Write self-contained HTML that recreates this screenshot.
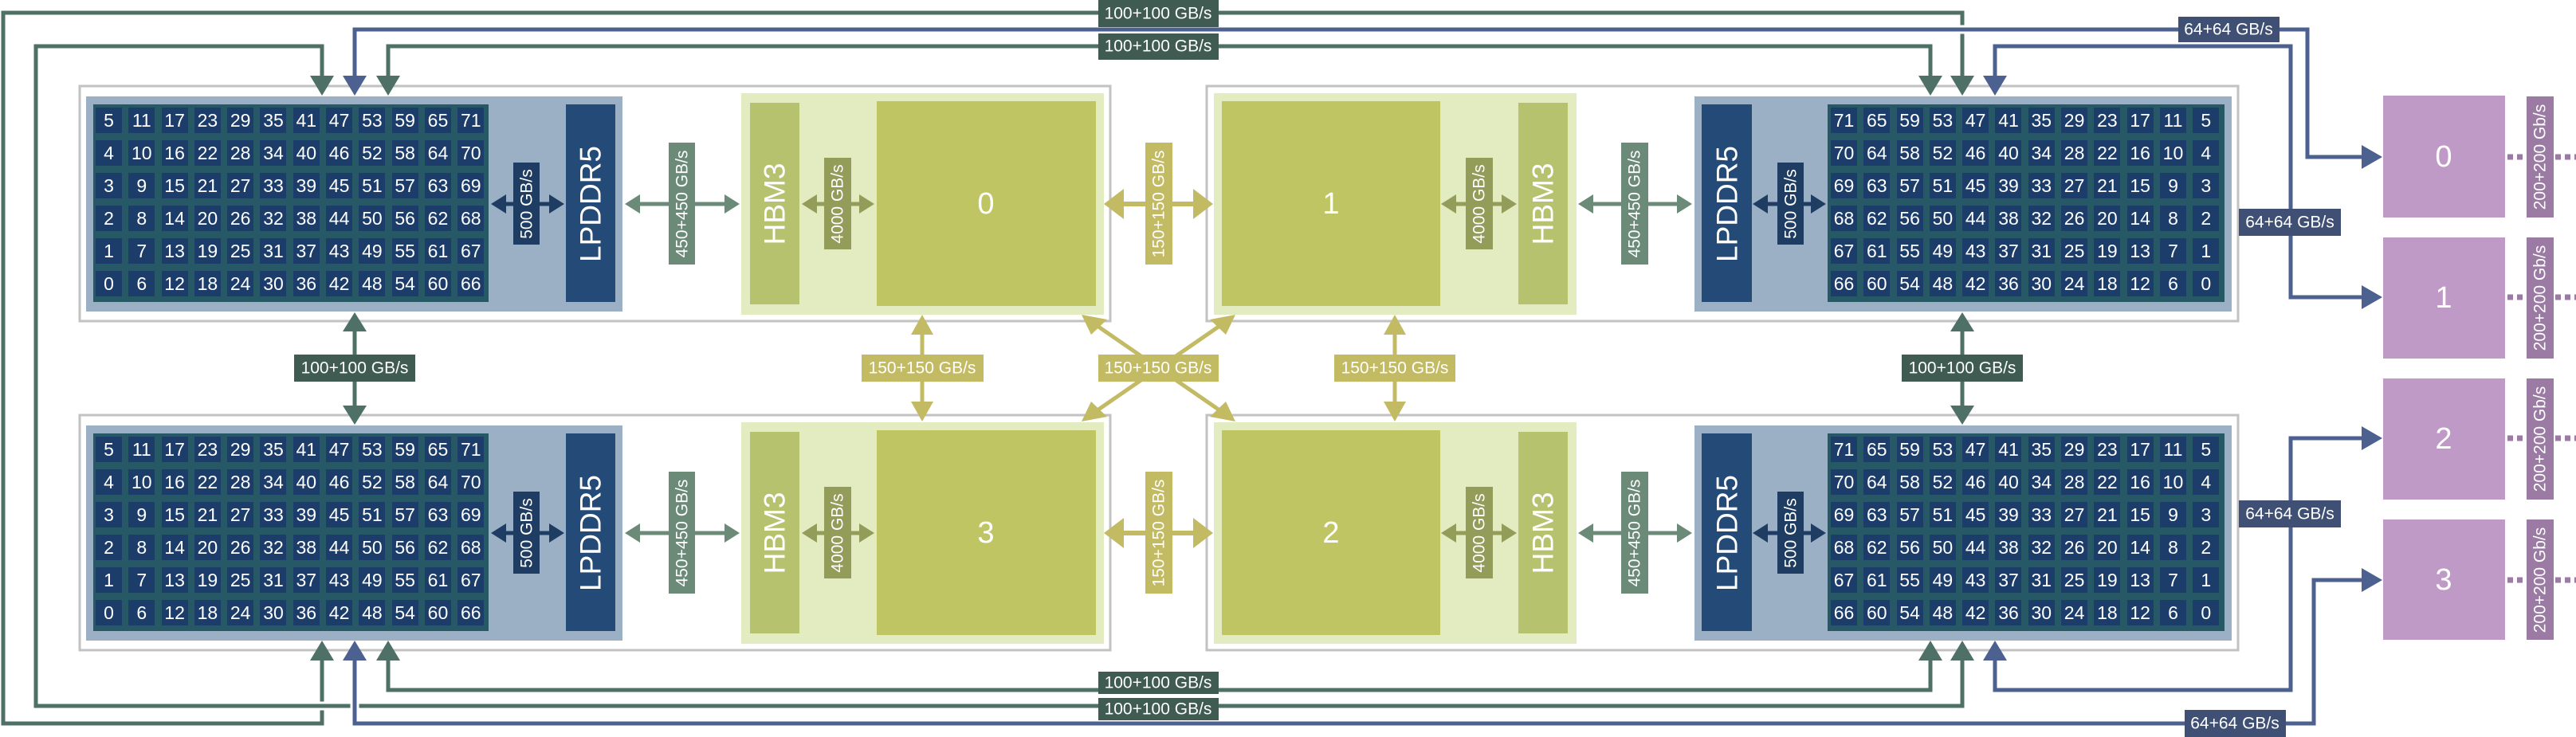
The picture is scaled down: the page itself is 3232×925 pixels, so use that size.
<!DOCTYPE html>
<html><head><meta charset="utf-8"><style>
body{margin:0;background:#fff;}
#w{position:relative;width:3232px;height:925px;overflow:hidden;background:#fff;font-family:"Liberation Sans",sans-serif;}
svg{position:absolute;left:0;top:0;}
.g{position:absolute;width:490px;display:grid;grid-template-columns:repeat(12,33px);column-gap:8.3px;row-gap:9px;padding:4px 0 0 3px;}
.g b{display:block;width:33px;height:32px;background:#1c3d6a;color:#fff;font-weight:normal;font-family:"Liberation Sans Narrow","Liberation Sans",sans-serif;font-size:23px;line-height:32px;text-align:center;}
</style></head><body><div id="w">
<svg width="3232" height="925" viewBox="0 0 3232 925" font-family="Liberation Sans, sans-serif">
<!-- frames -->
<g fill="none" stroke="#c2c2c2" stroke-width="3">
<rect x="100" y="108" width="1293" height="295"/>
<rect x="1514" y="108" width="1294" height="295"/>
<rect x="100" y="521" width="1293" height="295"/>
<rect x="1514" y="521" width="1294" height="295"/>
</g>
<!-- top-left block -->
<g id="tl">
<rect x="108" y="121" width="673" height="270" fill="#9bb0c4"/>
<rect x="117" y="131" width="496" height="248" fill="#275866"/>
<rect x="710" y="131" width="62" height="248" fill="#244a78"/>
<rect x="930" y="117" width="455" height="278" fill="#e3ecc0"/>
<rect x="941" y="129" width="62" height="253" fill="#b7c26e"/>
<rect x="1100" y="127" width="275" height="257" fill="#c0c563"/>
</g>
<g transform="translate(0,413)">
<rect x="108" y="121" width="673" height="270" fill="#9bb0c4"/>
<rect x="117" y="131" width="496" height="248" fill="#275866"/>
<rect x="710" y="131" width="62" height="248" fill="#244a78"/>
<rect x="930" y="117" width="455" height="278" fill="#e3ecc0"/>
<rect x="941" y="129" width="62" height="253" fill="#b7c26e"/>
<rect x="1100" y="127" width="275" height="257" fill="#c0c563"/>
</g>
<g id="tr">
<rect x="2126" y="121" width="674" height="270" fill="#9bb0c4"/>
<rect x="2293" y="131" width="498" height="248" fill="#275866"/>
<rect x="2135" y="131" width="63" height="248" fill="#244a78"/>
<rect x="1523" y="117" width="455" height="278" fill="#e3ecc0"/>
<rect x="1905" y="129" width="62" height="253" fill="#b7c26e"/>
<rect x="1533" y="127" width="274" height="257" fill="#c0c563"/>
</g>
<g transform="translate(0,413)">
<rect x="2126" y="121" width="674" height="270" fill="#9bb0c4"/>
<rect x="2293" y="131" width="498" height="248" fill="#275866"/>
<rect x="2135" y="131" width="63" height="248" fill="#244a78"/>
<rect x="1523" y="117" width="455" height="278" fill="#e3ecc0"/>
<rect x="1905" y="129" width="62" height="253" fill="#b7c26e"/>
<rect x="1533" y="127" width="274" height="257" fill="#c0c563"/>
</g>

<!-- in-block double arrows (top row y=256, bottom y=669) -->
<g id="arr">
<!-- 500 left -->
<g fill="#1f3d62" stroke="#1f3d62"><line x1="630" y1="256" x2="695" y2="256" stroke-width="5"/><polygon points="616,256 635,244 635,268" stroke="none"/><polygon points="708,256 689,244 689,268" stroke="none"/></g>
<!-- 450 left -->
<g fill="#6b8a78" stroke="#6b8a78"><line x1="798" y1="256" x2="914" y2="256" stroke-width="5"/><polygon points="784,256 803,244 803,268" stroke="none"/><polygon points="928,256 909,244 909,268" stroke="none"/></g>
<!-- 4000 left -->
<g fill="#949c5a" stroke="#949c5a"><line x1="1020" y1="256" x2="1084" y2="256" stroke-width="5"/><polygon points="1006,256 1025,244 1025,268" stroke="none"/><polygon points="1097,256 1078,244 1078,268" stroke="none"/></g>
<!-- 150 mid -->
<g fill="#c3ba64" stroke="#c3ba64"><line x1="1400" y1="256" x2="1508" y2="256" stroke-width="6"/><polygon points="1385,256 1410,237 1410,275" stroke="none"/><polygon points="1522,256 1497,237 1497,275" stroke="none"/></g>
<!-- 4000 right -->
<g fill="#949c5a" stroke="#949c5a"><line x1="1822" y1="256" x2="1890" y2="256" stroke-width="5"/><polygon points="1808,256 1827,244 1827,268" stroke="none"/><polygon points="1903,256 1884,244 1884,268" stroke="none"/></g>
<!-- 450 right -->
<g fill="#6b8a78" stroke="#6b8a78"><line x1="1994" y1="256" x2="2109" y2="256" stroke-width="5"/><polygon points="1980,256 1999,244 1999,268" stroke="none"/><polygon points="2123,256 2104,244 2104,268" stroke="none"/></g>
<!-- 500 right -->
<g fill="#1f3d62" stroke="#1f3d62"><line x1="2213" y1="256" x2="2278" y2="256" stroke-width="5"/><polygon points="2199,256 2218,244 2218,268" stroke="none"/><polygon points="2291,256 2272,244 2272,268" stroke="none"/></g>
</g>
<use href="#arr" transform="translate(0,413)"/>

<!-- vertical links between rows -->
<g fill="#4f7066" stroke="#4f7066">
<line x1="445" y1="410" x2="445" y2="515" stroke-width="5"/><polygon points="445,392 430,416 460,416" stroke="none"/><polygon points="445,533 430,509 460,509" stroke="none"/>
<line x1="2462" y1="410" x2="2462" y2="515" stroke-width="5"/><polygon points="2462,392 2447,416 2477,416" stroke="none"/><polygon points="2462,533 2447,509 2477,509" stroke="none"/>
</g>
<g fill="#c3ba64" stroke="#c3ba64">
<line x1="1157" y1="410" x2="1157" y2="515" stroke-width="5"/><polygon points="1157,395 1143,420 1171,420" stroke="none"/><polygon points="1157,529 1143,504 1171,504" stroke="none"/>
<line x1="1750" y1="410" x2="1750" y2="515" stroke-width="5"/><polygon points="1750,395 1736,420 1764,420" stroke="none"/><polygon points="1750,529 1736,504 1764,504" stroke="none"/>
<line x1="1368" y1="403" x2="1539" y2="521" stroke-width="5"/>
<line x1="1539" y1="403" x2="1368" y2="521" stroke-width="5"/>
<polygon points="1357,395 1389,401 1369,420" stroke="none"/>
<polygon points="1550,395 1518,401 1538,420" stroke="none"/>
<polygon points="1357,529 1389,523 1369,504" stroke="none"/>
<polygon points="1550,529 1518,523 1538,504" stroke="none"/>
</g>

<!-- long connectors -->
<g fill="none" stroke-width="5" stroke-linejoin="miter">
<path d="M404,829 V908 H4 V16 H2462 V98" stroke="#fff" stroke-width="11"/>
<path d="M404,829 V908 H4 V16 H2462 V98" stroke="#4f7066"/>
<path d="M445,98 V37 H2895 V197 H2968" stroke="#fff" stroke-width="11"/>
<path d="M445,98 V37 H2895 V197 H2968" stroke="#4d6190"/>
<path d="M404,98 V58 H45 V886 H2462 V826" stroke="#fff" stroke-width="11"/>
<path d="M404,98 V58 H45 V886 H2462 V826" stroke="#4f7066"/>
<path d="M487,98 V58 H2422 V98" stroke="#fff" stroke-width="11"/>
<path d="M487,98 V58 H2422 V98" stroke="#4f7066"/>
<path d="M2503,98 V58 H2874 V373 H2968" stroke="#fff" stroke-width="11"/>
<path d="M2503,98 V58 H2874 V373 H2968" stroke="#4d6190"/>
<path d="M487,826 V866 H2422 V826" stroke="#fff" stroke-width="11"/>
<path d="M487,826 V866 H2422 V826" stroke="#4f7066"/>
<path d="M2503,826 V866 H2874 V550 H2968" stroke="#fff" stroke-width="11"/>
<path d="M2503,826 V866 H2874 V550 H2968" stroke="#4d6190"/>
<path d="M445,826 V908 H2903 V728 H2968" stroke="#fff" stroke-width="11"/>
<path d="M445,826 V908 H2903 V728 H2968" stroke="#4d6190"/>
</g>
<!-- arrowheads -->
<g stroke="none">
<polygon points="389,95 419,95 404,120" fill="#4f7066"/>
<polygon points="430,95 460,95 445,120" fill="#4d6190"/>
<polygon points="472,95 502,95 487,120" fill="#4f7066"/>
<polygon points="2407,95 2437,95 2422,120" fill="#4f7066"/>
<polygon points="2447,95 2477,95 2462,120" fill="#4f7066"/>
<polygon points="2488,95 2518,95 2503,120" fill="#4d6190"/>
<polygon points="389,829 419,829 404,804" fill="#4f7066"/>
<polygon points="430,829 460,829 445,804" fill="#4d6190"/>
<polygon points="472,829 502,829 487,804" fill="#4f7066"/>
<polygon points="2407,829 2437,829 2422,804" fill="#4f7066"/>
<polygon points="2447,829 2477,829 2462,804" fill="#4f7066"/>
<polygon points="2488,829 2518,829 2503,804" fill="#4d6190"/>
<polygon points="2963,182 2989,197 2963,212" fill="#4d6190"/>
<polygon points="2963,358 2989,373 2963,388" fill="#4d6190"/>
<polygon points="2963,535 2989,550 2963,565" fill="#4d6190"/>
<polygon points="2963,713 2989,728 2963,743" fill="#4d6190"/>
</g>

<!-- pink boxes -->
<g fill="#c09ac6">
<rect x="2990" y="120" width="153" height="153"/>
<rect x="2990" y="298" width="153" height="152"/>
<rect x="2990" y="475" width="153" height="152"/>
<rect x="2990" y="652" width="153" height="151"/>
</g>
<g stroke="#9b7aa3" stroke-width="7" stroke-dasharray="7 5">
<line x1="3146" y1="197" x2="3232" y2="197"/>
<line x1="3146" y1="373" x2="3232" y2="373"/>
<line x1="3146" y1="550" x2="3232" y2="550"/>
<line x1="3146" y1="728" x2="3232" y2="728"/>
</g>
<g fill="#9b7aa3">
<rect x="3170" y="121" width="34" height="152"/>
<rect x="3170" y="298" width="34" height="152"/>
<rect x="3170" y="475" width="34" height="152"/>
<rect x="3170" y="652" width="34" height="151"/>
</g>

<!-- label boxes -->
<g fill="#3f5b52">
<rect x="1378" y="0" width="151" height="34"/>
<rect x="1378" y="42" width="151" height="33"/>
<rect x="1378" y="843" width="151" height="28"/>
<rect x="1378" y="876" width="151" height="28"/>
<rect x="369" y="445" width="152" height="34"/>
<rect x="2386" y="445" width="152" height="34"/>
</g>
<g fill="#3f5074">
<rect x="2733" y="21" width="127" height="32"/>
<rect x="2809" y="262" width="128" height="34"/>
<rect x="2809" y="628" width="128" height="34"/>
<rect x="2741" y="891" width="127" height="34"/>
</g>
<g fill="#c3ba64">
<rect x="1081" y="445" width="153" height="34"/>
<rect x="1378" y="445" width="151" height="34"/>
<rect x="1674" y="445" width="152" height="34"/>
<rect x="1437" y="179" width="34" height="153"/>
<rect x="1437" y="592" width="34" height="153"/>
</g>
<g fill="#1f3d62">
<rect x="644" y="204" width="33" height="103"/><rect x="644" y="617" width="33" height="103"/>
<rect x="2230" y="204" width="33" height="103"/><rect x="2230" y="617" width="33" height="103"/>
</g>
<g fill="#6b8a78">
<rect x="839" y="179" width="33" height="153"/><rect x="839" y="592" width="33" height="153"/>
<rect x="2034" y="179" width="34" height="153"/><rect x="2034" y="592" width="34" height="153"/>
</g>
<g fill="#949c5a">
<rect x="1034" y="198" width="34" height="115"/><rect x="1034" y="611" width="34" height="115"/>
<rect x="1839" y="198" width="34" height="115"/><rect x="1839" y="611" width="34" height="115"/>
</g>

<!-- horizontal label texts -->
<g fill="#fff" font-size="21" text-anchor="middle" dominant-baseline="central">
<text x="1453" y="17">100+100 GB/s</text>
<text x="1453" y="58">100+100 GB/s</text>
<text x="1453" y="857">100+100 GB/s</text>
<text x="1453" y="890">100+100 GB/s</text>
<text x="445" y="462">100+100 GB/s</text>
<text x="2462" y="462">100+100 GB/s</text>
<text x="2796" y="37">64+64 GB/s</text>
<text x="2873" y="279">64+64 GB/s</text>
<text x="2873" y="645">64+64 GB/s</text>
<text x="2804" y="908">64+64 GB/s</text>
<text x="1157" y="462">150+150 GB/s</text>
<text x="1453" y="462">150+150 GB/s</text>
<text x="1750" y="462">150+150 GB/s</text>
</g>
<!-- vertical label texts -->
<g fill="#fff" font-size="21" text-anchor="middle" dominant-baseline="central">
<text transform="translate(661,256) rotate(-90)">500 GB/s</text>
<text transform="translate(661,669) rotate(-90)">500 GB/s</text>
<text transform="translate(2247,256) rotate(-90)">500 GB/s</text>
<text transform="translate(2247,669) rotate(-90)">500 GB/s</text>
<text transform="translate(856,256) rotate(-90)">450+450 GB/s</text>
<text transform="translate(856,669) rotate(-90)">450+450 GB/s</text>
<text transform="translate(2051,256) rotate(-90)">450+450 GB/s</text>
<text transform="translate(2051,669) rotate(-90)">450+450 GB/s</text>
<text transform="translate(1051,256) rotate(-90)">4000 GB/s</text>
<text transform="translate(1051,669) rotate(-90)">4000 GB/s</text>
<text transform="translate(1856,256) rotate(-90)">4000 GB/s</text>
<text transform="translate(1856,669) rotate(-90)">4000 GB/s</text>
<text transform="translate(1454,256) rotate(-90)">150+150 GB/s</text>
<text transform="translate(1454,669) rotate(-90)">150+150 GB/s</text>
<text transform="translate(3187,197) rotate(-90)">200+200 Gb/s</text>
<text transform="translate(3187,374) rotate(-90)">200+200 Gb/s</text>
<text transform="translate(3187,551) rotate(-90)">200+200 Gb/s</text>
<text transform="translate(3187,728) rotate(-90)">200+200 Gb/s</text>
</g>
<g fill="#fff" font-size="37" text-anchor="middle" dominant-baseline="central">
<text transform="translate(741,256) rotate(-90)">LPDDR5</text>
<text transform="translate(741,669) rotate(-90)">LPDDR5</text>
<text transform="translate(2167,256) rotate(-90)">LPDDR5</text>
<text transform="translate(2167,669) rotate(-90)">LPDDR5</text>
<text transform="translate(972,256) rotate(-90)">HBM3</text>
<text transform="translate(972,669) rotate(-90)">HBM3</text>
<text transform="translate(1936,256) rotate(-90)">HBM3</text>
<text transform="translate(1936,669) rotate(-90)">HBM3</text>
</g>
<g fill="#fff" font-size="38" text-anchor="middle" dominant-baseline="central">
<text x="1237" y="256">0</text>
<text x="1670" y="256">1</text>
<text x="1670" y="669">2</text>
<text x="1237" y="669">3</text>
<text x="3066" y="197">0</text>
<text x="3066" y="374">1</text>
<text x="3066" y="551">2</text>
<text x="3066" y="728">3</text>
</g>
</svg>

<div class="g" style="left:117px;top:131px">
<b>5</b><b>11</b><b>17</b><b>23</b><b>29</b><b>35</b><b>41</b><b>47</b><b>53</b><b>59</b><b>65</b><b>71</b>
<b>4</b><b>10</b><b>16</b><b>22</b><b>28</b><b>34</b><b>40</b><b>46</b><b>52</b><b>58</b><b>64</b><b>70</b>
<b>3</b><b>9</b><b>15</b><b>21</b><b>27</b><b>33</b><b>39</b><b>45</b><b>51</b><b>57</b><b>63</b><b>69</b>
<b>2</b><b>8</b><b>14</b><b>20</b><b>26</b><b>32</b><b>38</b><b>44</b><b>50</b><b>56</b><b>62</b><b>68</b>
<b>1</b><b>7</b><b>13</b><b>19</b><b>25</b><b>31</b><b>37</b><b>43</b><b>49</b><b>55</b><b>61</b><b>67</b>
<b>0</b><b>6</b><b>12</b><b>18</b><b>24</b><b>30</b><b>36</b><b>42</b><b>48</b><b>54</b><b>60</b><b>66</b>
</div>
<div class="g" style="left:117px;top:544px">
<b>5</b><b>11</b><b>17</b><b>23</b><b>29</b><b>35</b><b>41</b><b>47</b><b>53</b><b>59</b><b>65</b><b>71</b>
<b>4</b><b>10</b><b>16</b><b>22</b><b>28</b><b>34</b><b>40</b><b>46</b><b>52</b><b>58</b><b>64</b><b>70</b>
<b>3</b><b>9</b><b>15</b><b>21</b><b>27</b><b>33</b><b>39</b><b>45</b><b>51</b><b>57</b><b>63</b><b>69</b>
<b>2</b><b>8</b><b>14</b><b>20</b><b>26</b><b>32</b><b>38</b><b>44</b><b>50</b><b>56</b><b>62</b><b>68</b>
<b>1</b><b>7</b><b>13</b><b>19</b><b>25</b><b>31</b><b>37</b><b>43</b><b>49</b><b>55</b><b>61</b><b>67</b>
<b>0</b><b>6</b><b>12</b><b>18</b><b>24</b><b>30</b><b>36</b><b>42</b><b>48</b><b>54</b><b>60</b><b>66</b>
</div>
<div class="g" style="left:2294px;top:131px">
<b>71</b><b>65</b><b>59</b><b>53</b><b>47</b><b>41</b><b>35</b><b>29</b><b>23</b><b>17</b><b>11</b><b>5</b>
<b>70</b><b>64</b><b>58</b><b>52</b><b>46</b><b>40</b><b>34</b><b>28</b><b>22</b><b>16</b><b>10</b><b>4</b>
<b>69</b><b>63</b><b>57</b><b>51</b><b>45</b><b>39</b><b>33</b><b>27</b><b>21</b><b>15</b><b>9</b><b>3</b>
<b>68</b><b>62</b><b>56</b><b>50</b><b>44</b><b>38</b><b>32</b><b>26</b><b>20</b><b>14</b><b>8</b><b>2</b>
<b>67</b><b>61</b><b>55</b><b>49</b><b>43</b><b>37</b><b>31</b><b>25</b><b>19</b><b>13</b><b>7</b><b>1</b>
<b>66</b><b>60</b><b>54</b><b>48</b><b>42</b><b>36</b><b>30</b><b>24</b><b>18</b><b>12</b><b>6</b><b>0</b>
</div>
<div class="g" style="left:2294px;top:544px">
<b>71</b><b>65</b><b>59</b><b>53</b><b>47</b><b>41</b><b>35</b><b>29</b><b>23</b><b>17</b><b>11</b><b>5</b>
<b>70</b><b>64</b><b>58</b><b>52</b><b>46</b><b>40</b><b>34</b><b>28</b><b>22</b><b>16</b><b>10</b><b>4</b>
<b>69</b><b>63</b><b>57</b><b>51</b><b>45</b><b>39</b><b>33</b><b>27</b><b>21</b><b>15</b><b>9</b><b>3</b>
<b>68</b><b>62</b><b>56</b><b>50</b><b>44</b><b>38</b><b>32</b><b>26</b><b>20</b><b>14</b><b>8</b><b>2</b>
<b>67</b><b>61</b><b>55</b><b>49</b><b>43</b><b>37</b><b>31</b><b>25</b><b>19</b><b>13</b><b>7</b><b>1</b>
<b>66</b><b>60</b><b>54</b><b>48</b><b>42</b><b>36</b><b>30</b><b>24</b><b>18</b><b>12</b><b>6</b><b>0</b>
</div>
</div></body></html>
